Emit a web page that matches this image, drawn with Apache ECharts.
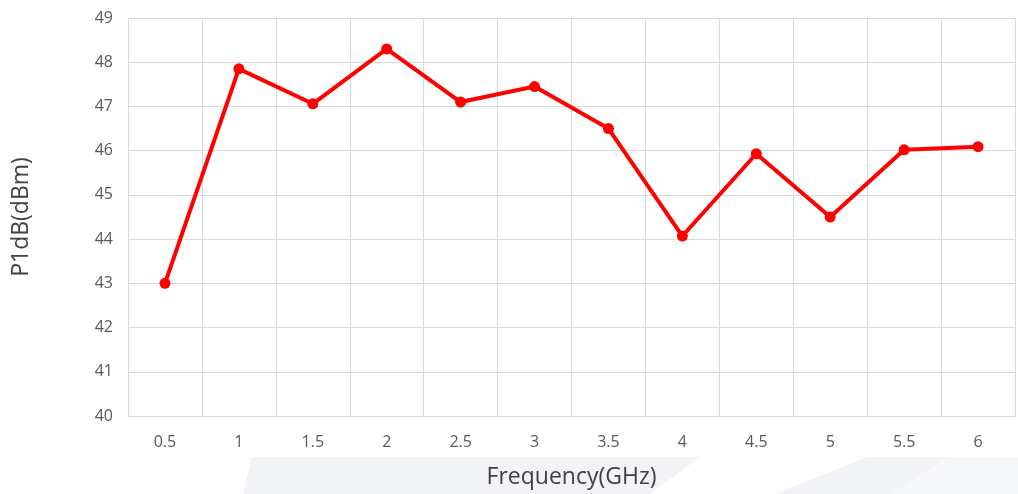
<!DOCTYPE html>
<html>
<head>
<meta charset="utf-8">
<script src="https://cdn.jsdelivr.net/npm/echarts@6/dist/echarts.min.js"></script>
<style>html,body{margin:0;padding:0;background:#fff}#c{width:1018px;height:494px}</style>
</head>
<body>
<div id="c"></div>
<script>
const categories = ['0.5','1','1.5','2','2.5','3','3.5','4','4.5','5','5.5','6'];
const p1dbValues = [43.0, 47.85, 47.06, 48.3, 47.1, 47.45, 46.5, 44.07, 45.93, 44.5, 46.02, 46.09];
const yMin = 40, yMax = 49, yInterval = 1;

const chart = echarts.init(document.getElementById('c'), null, {renderer: 'canvas'});
const font = '"Open Sans", "Noto Sans", sans-serif';
const bg = '#f2f3f6';
chart.setOption({
  backgroundColor: '#fff',
  animation: false,
  graphic: [
    {type: 'polygon', z: -10, shape: {points: [[252,457],[700,457],[650,494],[243,494]]}, style: {fill: bg}},
    {type: 'polygon', z: -10, shape: {points: [[867,457],[948,457],[893,494],[774,494]]}, style: {fill: bg}},
    {type: 'polygon', z: -10, shape: {points: [[950,457],[1018,457],[1018,494],[893,494]]}, style: {fill: '#f6f7f9'}}
  ],
  grid: {left: 128, right: 3, top: 18, bottom: 78, containLabel: false},
  xAxis: {
    type: 'category',
    data: categories,
    boundaryGap: true,
    name: 'Frequency(GHz)',
    nameLocation: 'middle',
    nameGap: 50,
    nameTextStyle: {fontFamily: font, fontSize: 23, color: '#404040'},
    axisLine: {show: true, lineStyle: {color: '#d9d9d9', width: 1}},
    axisTick: {show: false},
    axisLabel: {fontFamily: font, fontSize: 16, color: '#595959', margin: 18},
    splitLine: {show: true, lineStyle: {color: '#d9d9d9', width: 1}}
  },
  yAxis: {
    type: 'value',
    min: yMin, max: yMax, interval: yInterval,
    name: 'P1dB(dBm)',
    nameLocation: 'middle',
    nameGap: 95,
    nameRotate: 90,
    nameTextStyle: {fontFamily: font, fontSize: 23, color: '#404040'},
    axisLine: {show: true, lineStyle: {color: '#d9d9d9', width: 1}},
    axisTick: {show: false},
    axisLabel: {fontFamily: font, fontSize: 16, color: '#595959', margin: 15},
    splitLine: {show: true, lineStyle: {color: '#d9d9d9', width: 1}}
  },
  series: [{
    type: 'line',
    data: p1dbValues,
    color: '#ff0000',
    lineStyle: {width: 4, color: '#ff0000'},
    symbol: 'circle',
    symbolSize: 11,
    itemStyle: {color: '#ff0000'}
  }]
});
</script>
</body>
</html>
